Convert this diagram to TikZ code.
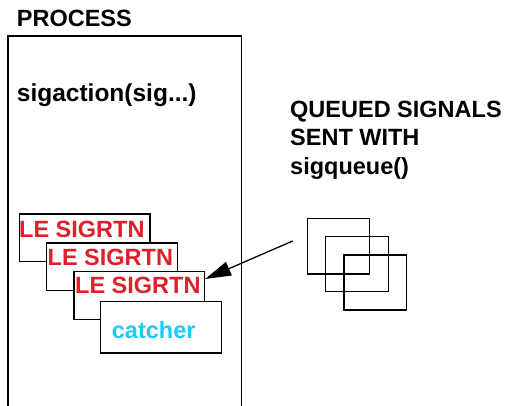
\documentclass[tikz,border=0pt]{standalone}
\usepackage{fontspec}
\setmainfont{Liberation Sans}
\usetikzlibrary{arrows.meta}
\definecolor{sigred}{RGB}{222,32,44}
\definecolor{sigcyan}{RGB}{24,204,250}
\begin{document}
\begin{tikzpicture}[x=1pt,y=-1pt,
  lbl/.style={anchor=base west,inner sep=0pt,font=\fontsize{23.5}{28}\selectfont\bfseries},
  frame/.style={draw=black,line width=1.4pt},
  handler/.style={draw=black,fill=white,line width=1.3pt,anchor=north west,inner sep=0pt,
    minimum width=130.5pt,minimum height=47.5pt},
  catchbox/.style={draw=black,fill=white,line width=1.3pt,anchor=north west,inner sep=0pt,
    minimum width=120.7pt,minimum height=51.3pt},
  queued/.style={draw=black,line width=1.2pt,anchor=north west,inner sep=0pt,
    minimum width=62.5pt,minimum height=55pt},
  redtext/.style={lbl,text=sigred},
]
\useasboundingbox (0,0) rectangle (506,406);

% process frame, open at the bottom
\coordinate (pbl) at (8,406);
\coordinate (ptl) at (8,36);
\coordinate (ptr) at (241.5,36);
\coordinate (pbr) at (241.5,406);
\draw[frame] (pbl) -- (ptl) -- (ptr) -- (pbr);

\node[lbl] (proc) at (16.7,26.7) {PROCESS};
\node[lbl,font=\fontsize{24.5}{28}\selectfont\bfseries] (sigact) at (16.7,101.7) {sigaction(sig...)};

% stacked signal handlers
\node[handler] (h1) at (18.7,213.3) {};
\node[redtext] (t1) at (19,238) {LE SIGRTN};
\node[handler] (h2) at (46,242.3) {};
\node[redtext] (t2) at (47.5,265.5) {LE SIGRTN};
\node[handler] (h3) at (73.3,271) {};
\node[redtext] (t3) at (75,293.5) {LE SIGRTN};
\node[catchbox] (c) at (100,301) {};
\node[lbl,text=sigcyan] (ct) at (111.7,338.3) {catcher};

% queued signals
\node[lbl] (q1) at (290,117.7) {QUEUED SIGNALS};
\node[lbl] (q2) at (290,146) {SENT WITH};
\node[lbl] (q3) at (290,174.3) {sigqueue()};

\node[queued] (s1) at (306.7,218.3) {};
\node[queued] (s2) at (325,236) {};
\node[queued] (s3) at (343.3,254.3) {};

\coordinate (src) at (292.7,241);
\draw[line width=1.3pt,-{Triangle[length=26pt,width=14.5pt]}]
  (src) -- ([yshift=-8pt]h3.north east);
\end{tikzpicture}
\end{document}
